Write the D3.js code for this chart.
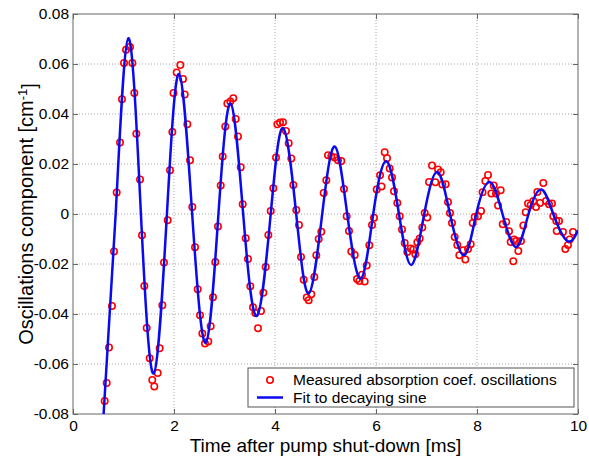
<!DOCTYPE html>
<html lang="en">
<head>
<meta charset="utf-8">
<script src="https://d3js.org/d3.v7.min.js"></script>
<style>
  body { margin: 0; background: #fff; }
  svg text { font-family: Arial, "Liberation Sans", sans-serif; }
</style>
</head>
<body>
<div id="chart"></div>
<script>
// measured absorption coefficient oscillations
const measTime = [
  0.627, 0.667, 0.713, 0.772, 0.812, 0.865, 0.931, 0.970, 1.010, 1.050,
  1.129, 1.175, 1.214, 1.254, 1.327, 1.366, 1.412, 1.459, 1.518, 1.570,
  1.610, 1.677, 1.716, 1.769, 1.802, 1.875, 1.921, 1.967, 1.990, 2.053,
  2.125, 2.178, 2.212, 2.264, 2.317, 2.363, 2.416, 2.469, 2.515, 2.561,
  2.614, 2.679, 2.726, 2.772, 2.818, 2.871, 2.925, 2.964, 3.016, 3.056,
  3.115, 3.174, 3.222, 3.267, 3.321, 3.360, 3.420, 3.465, 3.511, 3.564,
  3.610, 3.663, 3.723, 3.769, 3.816, 3.868, 3.915, 3.967, 4.020, 4.046,
  4.100, 4.158, 4.218, 4.271, 4.323, 4.363, 4.422, 4.475, 4.515, 4.568,
  4.628, 4.667, 4.719, 4.779, 4.818, 4.865, 4.917, 4.964, 5.016, 5.050,
  5.115, 5.182, 5.248, 5.313, 5.366, 5.419, 5.465, 5.511, 5.578, 5.624,
  5.670, 5.723, 5.776, 5.816, 5.868, 5.921, 5.960, 6.014, 6.080, 6.110,
  6.172, 6.218, 6.271, 6.317, 6.356, 6.422, 6.469, 6.515, 6.568, 6.620,
  6.687, 6.739, 6.779, 6.818, 6.865, 6.917, 6.964, 7.016, 7.050, 7.109,
  7.175, 7.228, 7.281, 7.313, 7.380, 7.426, 7.465, 7.505, 7.558, 7.610,
  7.650, 7.729, 7.769, 7.822, 7.875, 7.915, 7.954, 8.020, 8.080, 8.110,
  8.165, 8.218, 8.284, 8.331, 8.376, 8.416, 8.469, 8.509, 8.580, 8.634,
  8.667, 8.719, 8.733, 8.779, 8.818, 8.871, 8.917, 8.964, 9.010, 9.063,
  9.116, 9.169, 9.195, 9.248, 9.313, 9.366, 9.426, 9.485, 9.511, 9.570,
  9.578, 9.624, 9.703, 9.749, 9.802, 9.835, 9.901
];
const measValue = [
  -0.0748, -0.0676, -0.0534, -0.0368, -0.0150, 0.0086, 0.0286, 0.0459, 0.0604, 0.0657,
  0.0668, 0.0604, 0.0484, 0.0321, 0.0138, -0.0085, -0.0288, -0.0456, -0.0577, -0.0664,
  -0.0690, -0.0636, -0.0537, -0.0365, -0.0194, -0.0025, 0.0175, 0.0328, 0.0484, 0.0566,
  0.0596, 0.0540, 0.0478, 0.0359, 0.0215, 0.0028, -0.0133, -0.0301, -0.0405, -0.0478,
  -0.0518, -0.0510, -0.0449, -0.0333, -0.0192, -0.0050, 0.0114, 0.0230, 0.0350, 0.0442,
  0.0450, 0.0463, 0.0380, 0.0310, 0.0187, 0.0039, -0.0097, -0.0180, -0.0289, -0.0373,
  -0.0396, -0.0457, -0.0388, -0.0315, -0.0212, -0.0084, 0.0012, 0.0103, 0.0226, 0.0359,
  0.0366, 0.0367, 0.0332, 0.0283, 0.0222, 0.0116, 0.0016, -0.0044, -0.0172, -0.0263,
  -0.0334, -0.0345, -0.0321, -0.0252, -0.0165, -0.0100, -0.0071, 0.0084, 0.0135, 0.0235,
  0.0231, 0.0226, 0.0215, 0.0212, 0.0100, -0.0009, -0.0068, -0.0150, -0.0164, -0.0260,
  -0.0268, -0.0243, -0.0270, -0.0206, -0.0125, -0.0044, -0.0015, 0.0098, 0.0155, 0.0110,
  0.0247, 0.0223, 0.0182, 0.0146, 0.0091, 0.0044, -0.0009, -0.0062, -0.0116, -0.0152,
  -0.0138, -0.0142, -0.0161, -0.0113, -0.0098, -0.0054, 0.0004, -0.0014, 0.0128, 0.0194,
  0.0127, 0.0178, 0.0167, 0.0118, 0.0119, 0.0048, 0.0004, -0.0036, -0.0092, -0.0124,
  -0.0165, -0.0145, -0.0182, -0.0140, -0.0121, -0.0036, -0.0012, -0.0009, 0.0012, 0.0087,
  0.0132, 0.0156, 0.0082, 0.0114, 0.0082, 0.0034, 0.0095, -0.0041, -0.0032, -0.0069,
  -0.0112, -0.0189, -0.0102, -0.0108, -0.0148, -0.0108, -0.0046, 0.0007, 0.0042, 0.0036,
  0.0052, 0.0028, 0.0088, 0.0044, 0.0124, 0.0052, 0.0039, 0.0042, -0.0009, -0.0028,
  -0.0068, -0.0028, -0.0072, -0.0140, -0.0124, -0.0102, -0.0072
];

// decaying sine fit: peaks, troughs and zero crossings
const fitTime = [
  0.600, 0.845, 1.096, 1.345, 1.597, 1.860, 2.100, 2.360, 2.627, 2.880,
  3.120, 3.370, 3.637, 3.915, 4.158, 4.420, 4.667, 4.935, 5.182, 5.430,
  5.697, 5.945, 6.204, 6.455, 6.699, 6.955, 7.214, 7.465, 7.743, 7.985,
  8.250, 8.505, 8.779, 9.020, 9.274, 9.510, 9.790, 10.00
];
const fitValue = [
  -0.0820, 0, 0.0703, 0, -0.0638, 0, 0.0560, 0, -0.0515, 0,
  0.0442, 0, -0.0408, 0, 0.0344, 0, -0.0318, 0, 0.0270, 0,
  -0.0259, 0, 0.0211, 0, -0.0204, 0, 0.0168, 0, -0.0165, 0,
  0.0128, 0, -0.0132, 0, 0.0098, 0, -0.0108, -0.0065
];

const xTicks = [0, 2, 4, 6, 8, 10];
const yTicks = [-0.08, -0.06, -0.04, -0.02, 0, 0.02, 0.04, 0.06, 0.08];
const legendLabels = ["Measured absorption coef. oscillations", "Fit to decaying sine"];

const margin = {top: 14, right: 11, bottom: 42, left: 73},
      W = 589, H = 456,
      width = W - margin.left - margin.right,
      height = H - margin.top - margin.bottom;

const svg = d3.select("#chart").append("svg")
    .attr("width", W)
    .attr("height", H);

const g = svg.append("g")
    .attr("transform", `translate(${margin.left},${margin.top})`);

const x = d3.scaleLinear().domain([0, 10]).range([0, width]);
const y = d3.scaleLinear().domain([-0.08, 0.08]).range([height, 0]);

// dotted grid
g.append("g").selectAll("line")
  .data(xTicks.slice(1, -1))
  .join("line")
    .attr("x1", d => x(d)).attr("x2", d => x(d))
    .attr("y1", 0).attr("y2", height)
    .attr("stroke", "#a8a8a8")
    .attr("stroke-dasharray", "1,2");
g.append("g").selectAll("line")
  .data(yTicks.slice(1, -1))
  .join("line")
    .attr("y1", d => y(d)).attr("y2", d => y(d))
    .attr("x1", 0).attr("x2", width)
    .attr("stroke", "#a8a8a8")
    .attr("stroke-dasharray", "1,2");

// axes (ticks inside, MATLAB box)
const fmtY = d => d === 0 ? "0" : d.toFixed(2);
const axisColor = "#666";

function styleAxis(sel, showText) {
  sel.select(".domain").remove();
  sel.selectAll(".tick line").attr("stroke", axisColor);
  sel.selectAll("text").attr("fill", "#000").style("font-size", "15.5px");
  if (!showText) sel.selectAll("text").remove();
}

g.append("g")
  .attr("transform", `translate(0,${height})`)
  .call(d3.axisBottom(x).tickValues(xTicks).tickSize(-5).tickPadding(5.5))
  .call(s => styleAxis(s, true));
g.append("g")
  .call(d3.axisTop(x).tickValues(xTicks).tickSize(-5))
  .call(s => styleAxis(s, false));
g.append("g")
  .call(d3.axisLeft(y).tickValues(yTicks).tickFormat(fmtY).tickSize(-5).tickPadding(4))
  .call(s => styleAxis(s, true));
g.append("g")
  .attr("transform", `translate(${width},0)`)
  .call(d3.axisRight(y).tickValues(yTicks).tickSize(-5))
  .call(s => styleAxis(s, false));

g.append("rect")
  .attr("width", width).attr("height", height)
  .attr("fill", "none")
  .attr("stroke", axisColor);

// clip
svg.append("defs").append("clipPath").attr("id", "plotclip")
  .append("rect").attr("width", width).attr("height", height);

const plot = g.append("g").attr("clip-path", "url(#plotclip)");

// measured points
plot.append("g").selectAll("circle")
  .data(measTime.map((t, i) => [t, measValue[i]]))
  .join("circle")
    .attr("cx", d => x(d[0]))
    .attr("cy", d => y(d[1]))
    .attr("r", 3.2)
    .attr("fill", "none")
    .attr("stroke", "#ff0000")
    .attr("stroke-width", 1.6);

// fit line
const line = d3.line()
  .x(d => x(d[0]))
  .y(d => y(d[1]))
  .curve(d3.curveNatural);

plot.append("path")
  .datum(fitTime.map((t, i) => [t, fitValue[i]]))
  .attr("d", line)
  .attr("fill", "none")
  .attr("stroke", "#0a0af0")
  .attr("stroke-width", 2.5);

// legend
const lg = svg.append("g").attr("transform", "translate(248,368)");
lg.append("rect")
  .attr("width", 326).attr("height", 39)
  .attr("fill", "#fff")
  .attr("stroke", "#555");
lg.append("circle")
  .attr("cx", 22).attr("cy", 12)
  .attr("r", 3.2)
  .attr("fill", "none")
  .attr("stroke", "#ff0000")
  .attr("stroke-width", 1.6);
lg.append("line")
  .attr("x1", 9).attr("x2", 35)
  .attr("y1", 29.5).attr("y2", 29.5)
  .attr("stroke", "#0a0af0")
  .attr("stroke-width", 2.5);
lg.selectAll("text")
  .data(legendLabels)
  .join("text")
    .attr("x", 45)
    .attr("y", (d, i) => 12 + i * 17.5)
    .attr("dy", "0.35em")
    .style("font-size", "15.5px")
    .text(d => d);

// axis titles
svg.append("text")
  .attr("x", margin.left + width / 2)
  .attr("y", 451.5)
  .attr("text-anchor", "middle")
  .style("font-size", "19px")
  .text("Time after pump shut-down [ms]");

const yt = svg.append("text")
  .attr("transform", `translate(33,${margin.top + height / 2}) rotate(-90)`)
  .attr("text-anchor", "middle")
  .style("font-size", "20px");
yt.append("tspan").text("Oscillations component [cm");
yt.append("tspan").attr("dy", "-0.45em").style("font-size", "13px").text("-1");
yt.append("tspan").attr("dy", "0.45em").text("]");
</script>
</body>
</html>
